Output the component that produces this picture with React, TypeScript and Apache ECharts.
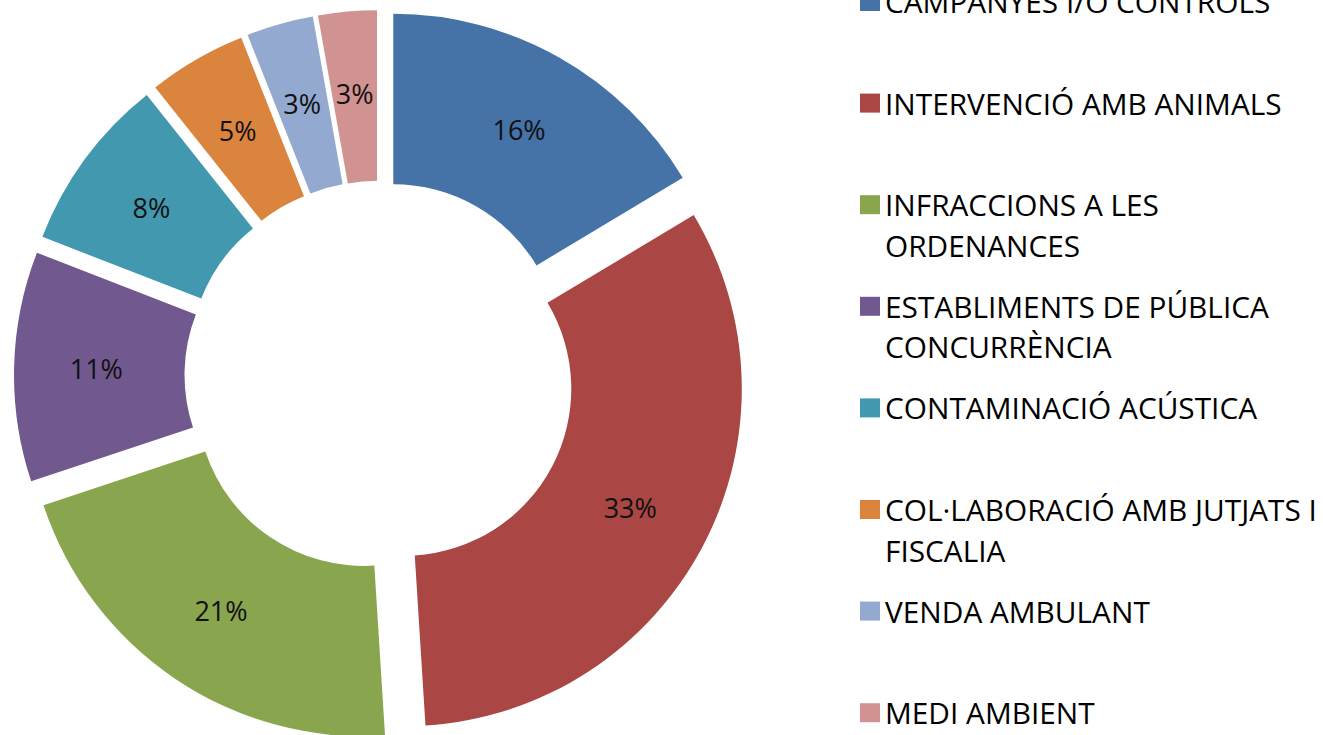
import React, { useEffect, useRef } from 'react';
import * as echarts from 'echarts';

const categories = [
  'CAMPANYES I/O CONTROLS',
  'INTERVENCIÓ AMB ANIMALS',
  'INFRACCIONS A LES ORDENANCES',
  'ESTABLIMENTS DE PÚBLICA CONCURRÈNCIA',
  'CONTAMINACIÓ ACÚSTICA',
  'COL·LABORACIÓ AMB JUTJATS I FISCALIA',
  'VENDA AMBULANT',
  'MEDI AMBIENT',
];
const values = [16.4, 32.6, 20.9, 11.0, 8.4, 4.7, 3.2, 2.8];
const colors = ['#4572A7', '#AA4643', '#89A54E', '#71588F', '#4198AF', '#DB843D', '#93A9CF', '#D19392'];

const FONT = '"Open Sans", "Noto Sans", sans-serif';
const LEGEND_SIZE = 29.8;
const LINE_H = 40.5;
const LEGEND_MAX_W = 448;

function wrap(text: string): string[] {
  const ctx = document.createElement('canvas').getContext('2d');
  if (!ctx) return [text];
  ctx.font = `${LEGEND_SIZE}px "Open Sans"`;
  const words = text.split(' ');
  const lines: string[] = [];
  let cur = '';
  for (const w of words) {
    const t = cur ? cur + ' ' + w : w;
    if (cur && ctx.measureText(t).width > LEGEND_MAX_W) {
      lines.push(cur);
      cur = w;
    } else {
      cur = t;
    }
  }
  if (cur) lines.push(cur);
  return lines;
}

export default function App() {
  const ref = useRef<HTMLDivElement>(null);
  useEffect(() => {
    if (!ref.current) return;
    const chart = echarts.init(ref.current, undefined, { renderer: 'svg' });
    const legends = categories.map((name, i) => {
      const lines = wrap(name);
      const text = lines.length > 1 ? '\n' + lines.join('\n') : lines[0];
      const half = lines.length > 1 ? 1.5 * LINE_H : 0.5 * LINE_H;
      const center = 1.5 + i * 101.6;
      return {
        data: [name],
        orient: 'vertical',
        left: 860,
        top: center - half,
        padding: 0,
        itemWidth: 20,
        itemHeight: 19,
        icon: 'rect',
        selectedMode: false,
        formatter: () => text,
        textStyle: { fontFamily: FONT, fontSize: LEGEND_SIZE, color: '#000', lineHeight: LINE_H },
      };
    });
    chart.setOption({
      animation: false,
      backgroundColor: '#ffffff',
      legend: legends,
      series: [
        {
          type: 'pie',
          center: [379.5, 375.7],
          radius: [167, 337.5],
          startAngle: 90,
          clockwise: true,
          selectedMode: 'multiple',
          selectedOffset: 28,
          avoidLabelOverlap: false,
          label: {
            show: true,
            position: 'inside',
            formatter: (p: any) => Math.round(p.percent) + '%',
            fontFamily: FONT,
            fontSize: 27,
            color: '#111',
          },
          labelLine: { show: false },
          emphasis: { disabled: true },
          data: categories.map((name, i) => ({
            name,
            value: values[i],
            selected: true,
            itemStyle: { color: colors[i], borderWidth: 0 },
            select: { itemStyle: { color: colors[i], borderWidth: 0 } },
          })),
        },
      ],
    });
    return () => chart.dispose();
  }, []);
  return (
    <div
      ref={ref}
      style={{ position: 'absolute', left: 0, top: 0, width: 1323, height: 735, background: '#fff' }}
    />
  );
}
